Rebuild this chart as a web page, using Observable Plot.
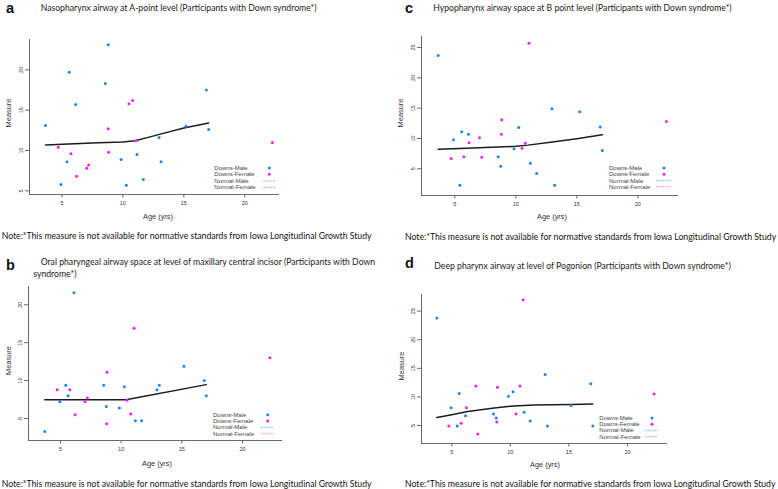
<!DOCTYPE html>
<html><head><meta charset="utf-8">
<script src="https://cdn.jsdelivr.net/npm/d3@7"></script>
<script src="https://cdn.jsdelivr.net/npm/@observablehq/plot@0.6"></script>
<style>
body{margin:0;background:#fff;}
#root{position:relative;width:778px;height:489px;overflow:hidden;background:#fff;}
</style></head><body><div id="root"></div>
<script>
// ---------- data ----------
const xTickValues = [5, 10, 15, 20];
const legendLabels = ["Downs-Male", "Downs-Female", "Normal-Male", "Normal-Female"];
const noteText = "Note:*This measure is not available for normative standards from Iowa Longitudinal Growth Study";

// panel a
const aTitle = "Nasopharynx airway at A-point level (Participants with Down syndrome*)";
const aYTicks = [5, 10, 15, 20];
const aMaleAge = [3.66, 4.92, 5.41, 5.60, 6.12, 8.56, 8.80, 9.85, 10.28, 11.16, 11.68, 12.97, 13.13, 15.18, 16.85, 17.04];
const aMaleMeasure = [13.1, 5.8, 8.6, 19.7, 15.7, 18.3, 23.1, 8.9, 5.7, 9.5, 6.4, 11.6, 8.6, 13.0, 17.5, 12.6];
const aFemaleAge = [4.70, 5.74, 6.20, 7.03, 7.19, 8.80, 8.83, 10.50, 10.80, 11.08, 22.27];
const aFemaleMeasure = [10.4, 9.6, 6.8, 7.8, 8.2, 12.7, 9.8, 15.8, 16.2, 11.2, 11.0];
const aFitAge = [3.66, 6, 8, 10, 11, 12, 13, 15, 17.04];
const aFitMeasure = [10.7, 10.85, 10.95, 11.05, 11.2, 11.6, 12.0, 12.8, 13.4];

// panel b
const bTitle1 = "Oral pharyngeal airway space at level of maxillary central incisor (Participants with Down";
const bTitle2 = "syndrome*)";
const bYTicks = [5, 10, 15, 20];
const bMaleAge = [3.71, 4.95, 5.44, 5.63, 6.12, 8.56, 8.78, 9.85, 10.26, 11.17, 11.69, 12.95, 13.14, 15.17, 16.85, 17.01];
const bMaleMeasure = [3.3, 7.2, 9.4, 8.0, 21.6, 9.4, 6.6, 6.4, 9.2, 4.7, 4.7, 8.8, 9.4, 11.9, 10.0, 8.0];
const bFemaleAge = [4.73, 5.77, 6.21, 7.03, 7.22, 8.81, 8.84, 10.48, 10.79, 11.06, 22.25];
const bFemaleMeasure = [8.8, 8.8, 5.5, 7.2, 7.7, 4.3, 11.1, 7.4, 5.6, 16.9, 13.0];
const bFitAge = [3.71, 10.4, 17.01];
const bFitMeasure = [7.46, 7.46, 9.47];

// panel c
const cTitle = "Hypopharynx airway space at B point level (Participants with Down syndrome*)";
const cYTicks = [5, 10, 15, 20, 25];
const cMaleAge = [3.64, 4.89, 5.41, 5.57, 6.12, 8.55, 8.76, 9.85, 10.24, 11.19, 11.71, 12.96, 13.18, 15.23, 16.92, 17.08];
const cMaleMeasure = [23.7, 9.8, 2.3, 11.1, 10.7, 7.0, 5.4, 8.3, 11.8, 5.9, 4.2, 14.9, 2.3, 14.4, 11.9, 8.0];
const cFemaleAge = [4.70, 5.74, 6.17, 7.02, 7.21, 8.82, 8.85, 10.51, 10.78, 11.08, 22.34];
const cFemaleMeasure = [6.7, 7.0, 9.3, 10.1, 6.9, 10.7, 13.1, 8.4, 9.2, 25.7, 12.8];
const cFitAge = [3.64, 6, 8, 10, 11, 13, 15, 17.08];
const cFitMeasure = [8.24, 8.4, 8.55, 8.7, 8.9, 9.4, 9.95, 10.6];

// panel d
const dTitle = "Deep pharynx airway at level of Pogonion (Participants with Down syndrome*)";
const dYTicks = [5, 10, 15, 20, 25];
const dMaleAge = [3.72, 4.94, 5.46, 5.63, 6.17, 8.56, 8.79, 9.84, 10.23, 11.18, 11.69, 12.97, 13.17, 15.19, 16.87, 17.04];
const dMaleMeasure = [23.8, 8.1, 4.9, 10.6, 6.7, 7.0, 6.3, 10.1, 10.9, 7.3, 5.8, 13.9, 4.9, 8.5, 12.3, 4.9];
const dFemaleAge = [4.74, 5.80, 6.25, 7.05, 7.22, 8.84, 8.90, 10.49, 10.81, 11.09, 22.28];
const dFemaleMeasure = [4.9, 5.4, 8.1, 11.9, 3.5, 5.6, 11.7, 7.0, 11.9, 27.0, 10.5];
const dFitAge = [3.72, 5, 6.34, 8.62, 10.32, 12.03, 15.16, 17.04];
const dFitMeasure = [6.40, 6.9, 7.44, 8.08, 8.43, 8.6, 8.66, 8.78];

// ---------- styling / layout ----------
const BLUE = "#1f84e8", PINK = "#ee22ee";
const NM_COLOR = "#74b9dc", NF_COLOR = "#e48ade";
const AXIS = "#6a6a6a";

const panels = [
  {letter: "a", maleAge: aMaleAge, maleMeasure: aMaleMeasure, femaleAge: aFemaleAge, femaleMeasure: aFemaleMeasure,
   fitAge: aFitAge, fitMeasure: aFitMeasure, yTicks: aYTicks,
   svg: {left: 0, top: 30, width: 389, height: 200}, frame: {left: 29, top: 39, right: 279, bottom: 194},
   xDomain: [2.34, 22.85], yDomain: [4.55, 23.76],
   letterPos: [6, 13.3], titles: [[aTitle, 40.7, 7.5, 276]], note: [1.7, 235, 370.6],
   age: [158, 216.7], measure: [8.5, 113],
   legend: {textX: 214.3, rows: [168, 174.3, 181, 187.3], dotX: 269.3, dash: [263.3, 275.7]}},
  {letter: "c", maleAge: cMaleAge, maleMeasure: cMaleMeasure, femaleAge: cFemaleAge, femaleMeasure: cFemaleMeasure,
   fitAge: cFitAge, fitMeasure: cFitMeasure, yTicks: cYTicks,
   svg: {left: 389, top: 28, width: 389, height: 200}, frame: {left: 421, top: 36, right: 678, bottom: 195},
   xDomain: [2.27, 23.33], yDomain: [0.59, 26.82],
   letterPos: [405, 13.3], titles: [[cTitle, 433.3, 7.8, 299]], note: [405, 236, 371.7],
   age: [552, 216.7], measure: [400, 113],
   legend: {textX: 609, rows: [168, 174.3, 180.7, 186.7], dotX: 664, dash: [656.3, 670.7]}},
  {letter: "b", maleAge: bMaleAge, maleMeasure: bMaleMeasure, femaleAge: bFemaleAge, femaleMeasure: bFemaleMeasure,
   fitAge: bFitAge, fitMeasure: bFitMeasure, yTicks: bYTicks,
   svg: {left: 0, top: 278, width: 389, height: 190}, frame: {left: 28, top: 286, right: 282, bottom: 440},
   xDomain: [2.37, 23.29], yDomain: [2.1, 22.41],
   letterPos: [6, 270], titles: [[bTitle1, 40.7, 261, 335], [bTitle2, 33.3, 273.5, null]], note: [1.7, 483.7, 370.6],
   age: [157, 463], measure: [8.5, 360.5],
   legend: {textX: 213, rows: [414.7, 421, 427.3, 433.7], dotX: 267.7, dash: [261.3, 274]}},
  {letter: "d", maleAge: dMaleAge, maleMeasure: dMaleMeasure, femaleAge: dFemaleAge, femaleMeasure: dFemaleMeasure,
   fitAge: dFitAge, fitMeasure: dFitMeasure, yTicks: dYTicks,
   svg: {left: 389, top: 286, width: 389, height: 185}, frame: {left: 421, top: 294, right: 667, bottom: 443},
   xDomain: [2.41, 23.42], yDomain: [1.86, 27.9],
   letterPos: [405, 268], titles: [[dTitle, 434.3, 265.5, 297]], note: [405, 483.8, 371],
   age: [545, 464], measure: [401, 366],
   legend: {textX: 599.3, rows: [418, 424.3, 430.3, 436.7], dotX: 652, dash: [645.3, 657.7]}}
];

const root = document.getElementById("root");

for (const p of panels) {
  const males = p.maleAge.map((a, i) => ({age: a, measure: p.maleMeasure[i]}));
  const females = p.femaleAge.map((a, i) => ({age: a, measure: p.femaleMeasure[i]}));
  const fit = p.fitAge.map((a, i) => ({age: a, measure: p.fitMeasure[i]}));
  const s = p.svg, f = p.frame;
  const chart = Plot.plot({
    width: s.width, height: s.height,
    marginLeft: f.left - s.left, marginTop: f.top - s.top,
    marginRight: s.left + s.width - f.right, marginBottom: s.top + s.height - f.bottom,
    x: {domain: p.xDomain, label: null},
    y: {domain: p.yDomain, label: null},
    style: {background: "transparent", fontFamily: "'Liberation Sans', Arial, sans-serif", color: "#333", overflow: "visible"},
    marks: [
      Plot.ruleX([p.xDomain[0]], {stroke: AXIS, strokeWidth: 1}),
      Plot.ruleY([p.yDomain[0]], {stroke: AXIS, strokeWidth: 1}),
      Plot.axisX({ticks: xTickValues, tickSize: 3.5, tickPadding: 3.5, fontSize: 5.5, stroke: AXIS, fill: "#333", label: null, tickFormat: d => String(d)}),
      Plot.axisY({ticks: p.yTicks, tickSize: 4, tickPadding: 2.5, tickRotate: -90, fontSize: 5.5, stroke: AXIS, fill: "#333", label: null, tickFormat: d => String(d)}),
      Plot.line(fit, {x: "age", y: "measure", stroke: "#1c1c1c", strokeWidth: 1.5}),
      Plot.dot(males, {x: "age", y: "measure", r: 1.5, fill: BLUE, stroke: "none"}),
      Plot.dot(females, {x: "age", y: "measure", r: 1.5, fill: PINK, stroke: "none"})
    ]
  });
  chart.style.position = "absolute";
  chart.style.left = s.left + "px";
  chart.style.top = s.top + "px";
  root.appendChild(chart);
}

// ---------- overlay text: panel letters, titles, axis titles, notes, legends ----------
const ov = d3.select(root).append("svg")
  .attr("width", 778).attr("height", 489)
  .style("position", "absolute").style("left", "0px").style("top", "0px");

function fit(sel, target) {
  const len = sel.node().getComputedTextLength();
  const fs = parseFloat(sel.attr("font-size"));
  if (len > 0 && target) sel.attr("font-size", (fs * target / len).toFixed(3));
  return parseFloat(sel.attr("font-size"));
}

const TITLE_FONT = "Lato, 'Open Sans', sans-serif";
for (const p of panels) {
  ov.append("text").text(p.letter)
    .attr("x", p.letterPos[0]).attr("y", p.letterPos[1])
    .attr("font-family", "'Liberation Sans', Arial, sans-serif").attr("font-weight", "bold")
    .attr("font-size", 14.5).attr("fill", "#111");

  let lastSize = 9;
  for (const [txt, x, cy, w] of p.titles) {
    const t = ov.append("text").text(txt).attr("x", x).attr("y", cy)
      .attr("dominant-baseline", "central").attr("font-family", TITLE_FONT)
      .attr("font-size", lastSize).attr("fill", "#222");
    if (w) lastSize = fit(t, w);
  }

  const n = ov.append("text").text(noteText).attr("x", p.note[0]).attr("y", p.note[1])
    .attr("dominant-baseline", "central").attr("font-family", TITLE_FONT)
    .attr("font-size", 10).attr("fill", "#111");
  fit(n, p.note[2]);

  ov.append("text").text("Age (yrs)").attr("x", p.age[0]).attr("y", p.age[1])
    .attr("text-anchor", "middle").attr("dominant-baseline", "central")
    .attr("font-family", "'Liberation Sans', Arial, sans-serif").attr("font-size", 7.4).attr("fill", "#333");

  ov.append("text").text("Measure")
    .attr("transform", `translate(${p.measure[0]},${p.measure[1]}) rotate(-90)`)
    .attr("text-anchor", "middle").attr("dominant-baseline", "central")
    .attr("font-family", "'Liberation Sans', Arial, sans-serif").attr("font-size", 7.4).attr("fill", "#333");

  const L = p.legend;
  legendLabels.forEach((lab, i) => {
    ov.append("text").text(lab).attr("x", L.textX).attr("y", L.rows[i])
      .attr("dominant-baseline", "central")
      .attr("font-family", "'Liberation Sans', Arial, sans-serif").attr("font-size", 6).attr("fill", "#444");
  });
  ov.append("circle").attr("cx", L.dotX).attr("cy", L.rows[0]).attr("r", 1.5).attr("fill", BLUE);
  ov.append("circle").attr("cx", L.dotX).attr("cy", L.rows[1]).attr("r", 1.5).attr("fill", PINK);
  ov.append("line").attr("x1", L.dash[0]).attr("x2", L.dash[1]).attr("y1", L.rows[2]).attr("y2", L.rows[2])
    .attr("stroke", NM_COLOR).attr("stroke-width", 1).attr("stroke-dasharray", "2,1.2");
  ov.append("line").attr("x1", L.dash[0]).attr("x2", L.dash[1]).attr("y1", L.rows[3]).attr("y2", L.rows[3])
    .attr("stroke", NF_COLOR).attr("stroke-width", 1).attr("stroke-dasharray", "2,1.2");
}
</script>
</body></html>
